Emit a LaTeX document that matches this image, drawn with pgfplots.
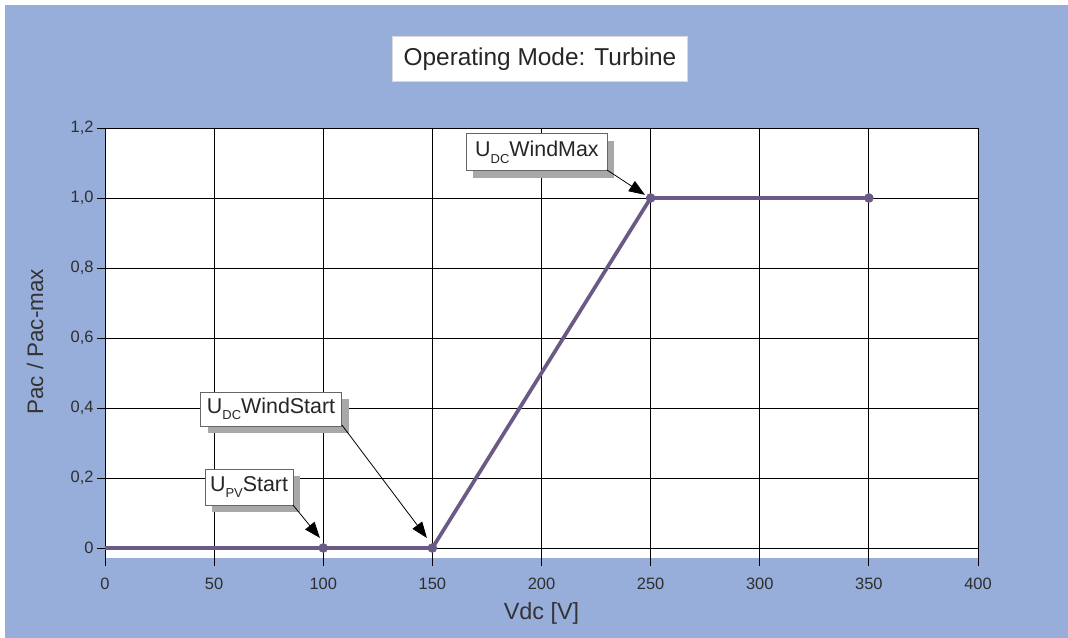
\documentclass[border=0pt]{standalone}
\usepackage{fontspec}
\setmainfont{Liberation Sans}
\usepackage{pgfplots}
\pgfplotsset{compat=1.18}
\usetikzlibrary{arrows.meta,shadows}
\definecolor{bgblue}{HTML}{97AEDA}
\definecolor{lineP}{HTML}{6B5A86}
\definecolor{tickgray}{HTML}{2E2E2E}
\definecolor{shadowgray}{HTML}{A8A8A8}
\tikzset{ann/.style={fill=white, draw=black!60, line width=0.6bp, inner sep=2bp,
    font=\fontsize{21.5}{24}\selectfont, text=black!85,
    drop shadow={shadow xshift=7bp, shadow yshift=-7bp, fill=shadowgray, opacity=1}}}
\begin{document}
\begin{tikzpicture}[x=1bp,y=1bp]
\fill[white] (-105,558.5) rectangle (963,-79.5);
\fill[bgblue] (-100,553.5) rectangle (963,-79.5);
\begin{axis}[
  at={(0,0)}, anchor=south west,
  scale only axis, width=873bp, height=430.5bp,
  xmin=0, xmax=400, ymin=-0.03, ymax=1.2,
  axis background/.style={fill=white},
  axis line style={draw=none},
  xtick={0,50,...,400},
  ytick={0,0.2,0.4,0.6,0.8,1.0,1.2},
  yticklabels={0,{0,2},{0,4},{0,6},{0,8},{1,0},{1,2}},
  grid=major,
  major grid style={black, line width=0.9bp},
  tick align=outside, major tick length=8bp, tick pos=left,
  tick style={black, line width=0.9bp},
  ticklabel style={font=\fontsize{16.5}{18}\selectfont, text=tickgray},
  xticklabel style={yshift=-8bp},
  /pgf/number format/assume math mode=true,
  xlabel={Vdc [V]}, ylabel={Pac / Pac-max},
  xlabel style={font=\fontsize{23.5}{26}\selectfont, text=black!80, at={(axis description cs:0.5,-0.128)}, anchor=center},
  ylabel style={font=\fontsize{22.5}{26}\selectfont, text=black!80, at={(axis description cs:-0.080,0.503)}, anchor=center},
  clip=false,
]
\addplot[lineP, line width=3.7bp, mark=*, mark size=4.5bp,
  mark options={fill=lineP, draw=lineP, line width=0.5bp}, mark indices={2,3,4,5}]
  coordinates {(0,0) (100,0) (150,0) (250,1) (350,1)};
\node[fill=white, draw=black!15, minimum width=295bp, minimum height=45bp,
  font=\fontsize{24.5}{28}\selectfont, text=black!85] at (axis cs:199.3,1.397) {Operating Mode: Turbine};
\node[ann, minimum width=141bp, minimum height=37bp] at (axis cs:197.9,1.131)
  {U\raisebox{-0.3em}{\fontsize{13}{13}\selectfont DC}WindMax};
\node[ann, minimum width=141bp, minimum height=34bp] at (axis cs:76.1,0.397)
  {U\raisebox{-0.3em}{\fontsize{13}{13}\selectfont DC}WindStart};
\node[ann, minimum width=88bp, minimum height=36bp] at (axis cs:66.0,0.174)
  {U\raisebox{-0.3em}{\fontsize{13}{13}\selectfont PV}Start};
\draw[-{Triangle[length=16bp,width=12bp]}, line width=0.8bp] (axis cs:230,1.08) -- (axis cs:247.4,1.009);
\draw[-{Triangle[length=16bp,width=12bp]}, line width=0.8bp] (axis cs:108.6,0.351) -- (axis cs:147.5,0.0286);
\draw[-{Triangle[length=16bp,width=12bp]}, line width=0.8bp] (axis cs:86.1,0.123) -- (axis cs:98.5,0.0286);
\end{axis}
\pgfresetboundingbox
\useasboundingbox (-105,558.5) rectangle (963,-79.5);
\end{tikzpicture}
\end{document}
